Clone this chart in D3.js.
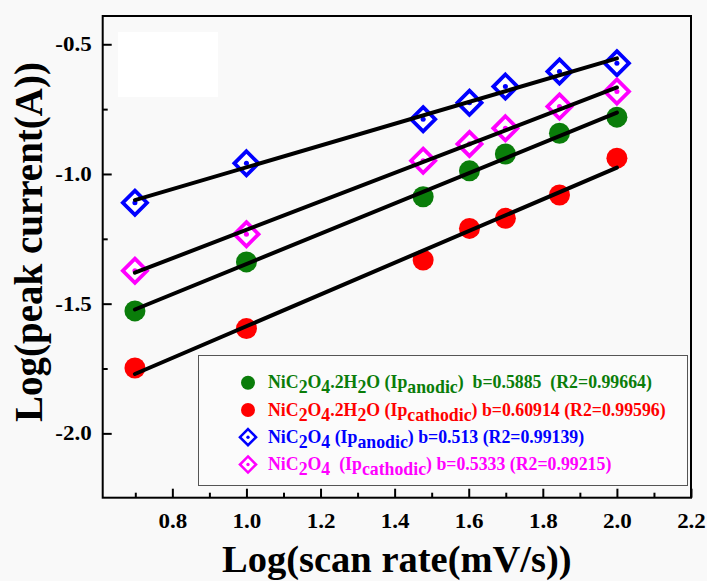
<!DOCTYPE html>
<html>
<head>
<meta charset="utf-8">
<script src="https://cdn.jsdelivr.net/npm/d3@7"></script>
<style>
  html, body { margin: 0; padding: 0; background: #f9f9f9; }
  svg { display: block; }
  text { font-family: "Liberation Serif", "Times New Roman", serif; font-weight: bold; }
</style>
</head>
<body>
<svg id="chart" width="707" height="581"></svg>
<script>
// ---- data ----
const scanRateLog = [0.699, 1.0, 1.477, 1.602, 1.699, 1.845, 2.0];
const hydrateAnodic = [-1.528, -1.339, -1.088, -0.988, -0.923, -0.843, -0.781];
const hydrateCathodic = [-1.748, -1.596, -1.332, -1.210, -1.171, -1.081, -0.939];
const anhydAnodic = [-1.111, -0.959, -0.789, -0.725, -0.663, -0.605, -0.573];
const anhydCathodic = [-1.373, -1.232, -0.949, -0.884, -0.824, -0.740, -0.682];
const seriesColors = ["#0a7d0a", "#ff0000", "#0000ff", "#ff00ff"];
const seriesShapes = ["circle", "circle", "diamond", "diamond"];
const xMajorTicks = [0.8, 1.0, 1.2, 1.4, 1.6, 1.8, 2.0, 2.2];
const xMinorTicks = [0.7, 0.9, 1.1, 1.3, 1.5, 1.7, 1.9, 2.1];
const yMajorTicks = [-2.0, -1.5, -1.0, -0.5];
const yMinorTicks = [-1.75, -1.25, -0.75];
const legendRows = [
  [["NiC",0],["2",1],["O",0],["4",1],[".2H",0],["2",1],["O (Ip",0],["anodic",1],[")  b=0.5885  (R2=0.99664)",0]],
  [["NiC",0],["2",1],["O",0],["4",1],[".2H",0],["2",1],["O (Ip",0],["cathodic",1],[") b=0.60914 (R2=0.99596)",0]],
  [["NiC",0],["2",1],["O",0],["4",1],[" (Ip",0],["anodic",1],[") b=0.513 (R2=0.99139)",0]],
  [["NiC",0],["2",1],["O",0],["4",1],["  (Ip",0],["cathodic",1],[") b=0.5333 (R2=0.99215)",0]]
];
const xTitle = "Log(scan rate(mV/s))";
const yTitle = "Log(peak current(A))";

const seriesValues = [hydrateAnodic, hydrateCathodic, anhydAnodic, anhydCathodic];

// ---- layout ----
const L = 102.7, R = 691, T = 16, B = 497.7;
const svg = d3.select("#chart");
svg.append("rect").attr("width", 707).attr("height", 581).attr("fill", "#f9f9f9");

const x = d3.scaleLinear().domain([0.612, 2.2]).range([L, R]);
const y = d3.scaleLinear().domain([-2.248, -0.391]).range([B, T]);

// white patch in the upper-left of the plot
svg.append("rect").attr("x", 118).attr("y", 32).attr("width", 100).attr("height", 65).attr("fill", "#ffffff");

// axes
const fmt = d => d.toFixed(1);
svg.append("g").attr("class", "xaxis").attr("transform", `translate(0,${B})`)
  .call(d3.axisBottom(x).tickValues(xMajorTicks).tickSize(-9).tickPadding(16).tickFormat(fmt));
svg.append("g").attr("transform", `translate(0,${B})`)
  .call(d3.axisBottom(x).tickValues(xMinorTicks).tickSize(-5).tickFormat(""));
svg.append("g").attr("class", "yaxis").attr("transform", `translate(${L},0)`)
  .call(d3.axisLeft(y).tickValues(yMajorTicks).tickSize(-9).tickPadding(11).tickFormat(fmt));
svg.append("g").attr("transform", `translate(${L},0)`)
  .call(d3.axisLeft(y).tickValues(yMinorTicks).tickSize(-5).tickFormat(""));
svg.selectAll(".domain").remove();
svg.selectAll(".tick line").attr("stroke", "#000").attr("stroke-width", 2);
svg.selectAll(".tick text").attr("font-size", 20).attr("fill", "#000")
  .style("font-family", '"Liberation Serif", serif').style("font-weight", "bold");
// slightly wide glyphs as in the reference
svg.selectAll(".xaxis .tick text").attr("transform", "scale(1.15,1)");
svg.selectAll(".yaxis .tick text").each(function () {
  const t = d3.select(this); const tx = +t.attr("x");
  t.attr("transform", `translate(${tx},0) scale(1.15,1) translate(${-tx},0)`);
});

// frame
svg.append("rect").attr("x", L).attr("y", T).attr("width", R - L).attr("height", B - T)
  .attr("fill", "none").attr("stroke", "#000").attr("stroke-width", 2);

// titles
svg.append("text").attr("x", (L + R) / 2).attr("y", 572).attr("text-anchor", "middle")
  .attr("font-size", 38.5).text(xTitle);
svg.append("text").attr("transform", `translate(42,${242}) rotate(-90)`).attr("text-anchor", "middle")
  .attr("font-size", 39).text(yTitle);

// markers
const plot = svg.append("g");
function drawMarker(g, shape, color, cx, cy, size) {
  if (shape === "circle") {
    g.append("circle").attr("cx", cx).attr("cy", cy).attr("r", size).attr("fill", color);
  } else {
    const h = size * 1.15;
    g.append("path")
      .attr("d", `M${cx},${cy - h}L${cx + h},${cy}L${cx},${cy + h}L${cx - h},${cy}Z`)
      .attr("fill", "#fff").attr("stroke", color).attr("stroke-width", size * 0.36);
    g.append("circle").attr("cx", cx).attr("cy", cy).attr("r", size * 0.24).attr("fill", color);
  }
}
seriesValues.forEach((vals, i) => {
  vals.forEach((v, j) => drawMarker(plot, seriesShapes[i], seriesColors[i], x(scanRateLog[j]), y(v), 10.5));
});

// linear fits (least squares from the data)
function fit(xs, ys) {
  const mx = d3.mean(xs), my = d3.mean(ys);
  let sxy = 0, sxx = 0;
  xs.forEach((xv, k) => { sxy += (xv - mx) * (ys[k] - my); sxx += (xv - mx) * (xv - mx); });
  const b = sxy / sxx;
  return xv => my + b * (xv - mx);
}
const line = d3.line().x(d => x(d[0])).y(d => y(d[1]));
seriesValues.forEach(vals => {
  const f = fit(scanRateLog, vals);
  const x0 = scanRateLog[0], x1 = scanRateLog[scanRateLog.length - 1];
  plot.append("path").attr("d", line([[x0, f(x0)], [x1, f(x1)]]))
    .attr("stroke", "#000").attr("stroke-width", 4).attr("fill", "none").attr("stroke-linecap", "round");
});

// legend
const lg = svg.append("g");
lg.append("rect").attr("x", 198.5).attr("y", 355.5).attr("width", 489).attr("height", 130)
  .attr("fill", "#fbfbfb").attr("stroke", "#555").attr("stroke-width", 1);
const rowY = [388.3, 415.5, 442.7, 470];
legendRows.forEach((parts, i) => {
  drawMarker(lg, seriesShapes[i], seriesColors[i], 248, rowY[i] - 5.5, 7);
  const t = lg.append("text").attr("x", 268).attr("y", rowY[i]).attr("font-size", 17.8)
    .attr("fill", seriesColors[i]).style("white-space", "pre");
  let shifted = false;
  parts.forEach(([s, sub]) => {
    const ts = t.append("tspan").text(s);
    if (sub && !shifted) { ts.attr("dy", 5); shifted = true; }
    else if (!sub && shifted) { ts.attr("dy", -5); shifted = false; }
  });
});
</script>
</body>
</html>
